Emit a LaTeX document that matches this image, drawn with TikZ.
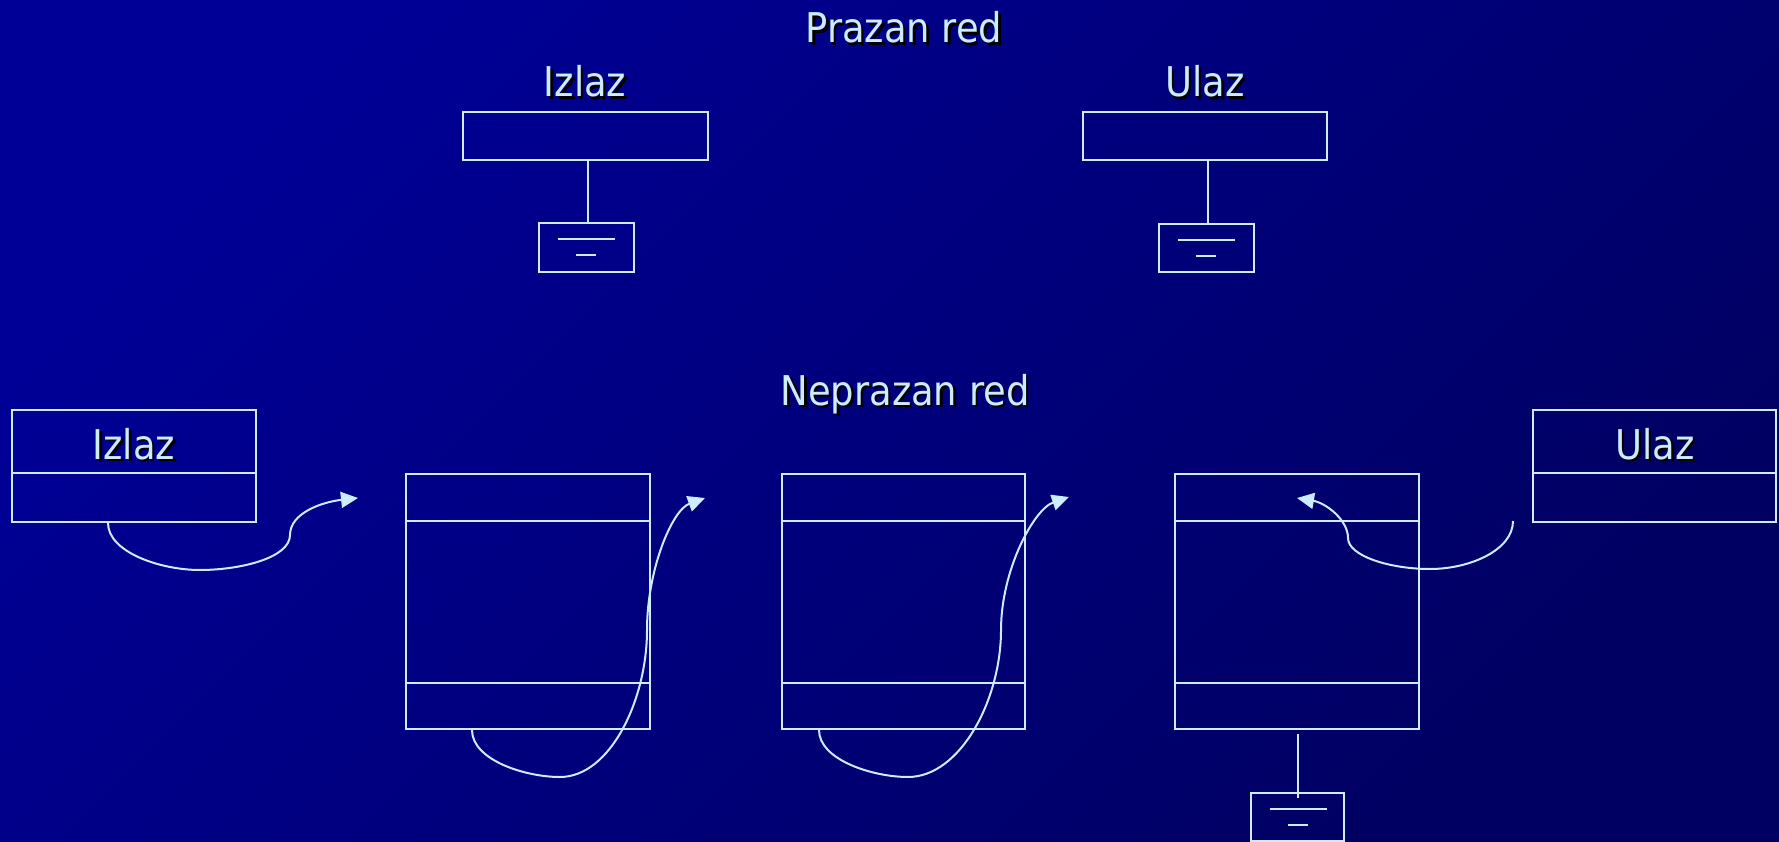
\documentclass[tikz,border=0pt]{standalone}
\usepackage{fontspec}
\setmainfont{DejaVu Sans Condensed}
\usetikzlibrary{arrows.meta}
\definecolor{bgA}{RGB}{0,0,150}
\definecolor{bgB}{RGB}{0,0,98}
\definecolor{fg}{RGB}{204,236,255}
\newcommand\shadtxt[1]{\rlap{\kern2.5pt\raisebox{-2.5pt}{\color{black}#1}}#1}
\begin{document}
\begin{tikzpicture}[x=1pt,y=-1pt,
  box/.style={draw=fg, rectangle, inner sep=0pt, line width=2pt},
  lbl/.style={text=fg, font=\fontsize{41}{49}\selectfont, anchor=base, inner sep=0pt},
  arr/.style={draw=fg, line width=2pt, -{Triangle[length=17pt,width=16pt]}},
  ln/.style={draw=fg, line width=2pt}]
\shade[top color=bgA, bottom color=bgB, shading angle=45] (0,0) rectangle (1779,842);
\useasboundingbox (0,0) rectangle (1779,842);

% ---------- Prazan red ----------
\node[lbl] (title1) at (904,43) {\shadtxt{Prazan red}};
\node[lbl] (tIzL) at (585,97) {\shadtxt{Izlaz}};
\node[lbl] (tUlL) at (1205,97) {\shadtxt{Ulaz}};
\node[box, minimum width=245pt, minimum height=48pt] (tIz) at (585.5,136) {};
\node[box, minimum width=244pt, minimum height=48pt] (tUl) at (1205,136) {};
\node[box, minimum width=95pt, minimum height=48pt] (gIz) at (586,247.5) {};
\node[box, minimum width=95pt, minimum height=48pt] (gUl) at (1206,248) {};
\draw[ln] ([xshift=2.5pt]tIz.south) -- ([xshift=2pt]gIz.north);
\draw[ln] ([xshift=3pt]tUl.south) -- ([xshift=2pt]gUl.north);
\foreach \g in {gIz,gUl}{
  \draw[ln] ([xshift=-28pt,yshift=-17pt]\g.north) -- ([xshift=29pt,yshift=-17pt]\g.north);
  \draw[ln] ([xshift=-10pt,yshift=-33pt]\g.north) -- ([xshift=10pt,yshift=-33pt]\g.north);
}

% ---------- Neprazan red ----------
\node[lbl] (title2) at (905,405) {\shadtxt{Neprazan red}};
\node[box, minimum width=244pt, minimum height=112pt] (lIz) at (134,466) {};
\node[lbl] (lIzT) at (134,459) {\shadtxt{Izlaz}};
\draw[ln] ([yshift=-64pt]lIz.north west) -- ([yshift=-64pt]lIz.north east);
\node[box, minimum width=243pt, minimum height=112pt] (rUl) at (1654.5,466) {};
\node[lbl] (rUlT) at (1655,459) {\shadtxt{Ulaz}};
\draw[ln] ([yshift=-64pt]rUl.north west) -- ([yshift=-64pt]rUl.north east);

\node[box, minimum width=244pt, minimum height=255pt] (b1) at (528,601.5) {};
\node[box, minimum width=243pt, minimum height=255pt] (b2) at (903.5,601.5) {};
\node[box, minimum width=244pt, minimum height=255pt] (b3) at (1297,601.5) {};
\foreach \b in {b1,b2,b3}{
  \draw[ln] ([yshift=-48pt]\b.north west) -- ([yshift=-48pt]\b.north east);
  \draw[ln] ([yshift=47pt]\b.south west) -- ([yshift=47pt]\b.south east);
}

\node[box, minimum width=93pt, minimum height=48pt] (gB) at (1297.5,817) {};
\draw[ln] ([xshift=-28pt,yshift=-17pt]gB.north) -- ([xshift=29pt,yshift=-17pt]gB.north);
\draw[ln] ([xshift=-10pt,yshift=-33pt]gB.north) -- ([xshift=10pt,yshift=-33pt]gB.north);
\coordinate (gS) at (1298,734);
\draw[ln] (gS) -- ([xshift=0.5pt,yshift=-6pt]gB.north);

% arrows
\coordinate (t1) at (358,498);
\coordinate (t2) at (705,498);
\coordinate (t3) at (1069,497);
\coordinate (t4) at (1297,498);
\coordinate (s4) at (1513,521);
\draw[arr] ([xshift=-26pt]lIz.south) .. controls (108,552) and (160,570) .. (200,570)
  .. controls (240,570) and (290,558) .. (290,535)
  .. controls (290,513) and (322,502) .. (t1);
\draw[arr] ([xshift=-56pt]b1.south) .. controls (472,760) and (525,777) .. (560,777)
  .. controls (610,777) and (647,700) .. (647,630)
  .. controls (647,570) and (672,510) .. (t2);
\draw[arr] ([xshift=-84.5pt]b2.south) .. controls (819,760) and (873,777) .. (908,777)
  .. controls (960,777) and (1001,700) .. (1001,630)
  .. controls (1001,570) and (1034,509) .. (t3);
\draw[arr] (s4) .. controls (1513,550) and (1470,569) .. (1430,569)
  .. controls (1390,569) and (1348,556) .. (1348,538)
  .. controls (1348,520) and (1326,503) .. (t4);
\end{tikzpicture}
\end{document}
